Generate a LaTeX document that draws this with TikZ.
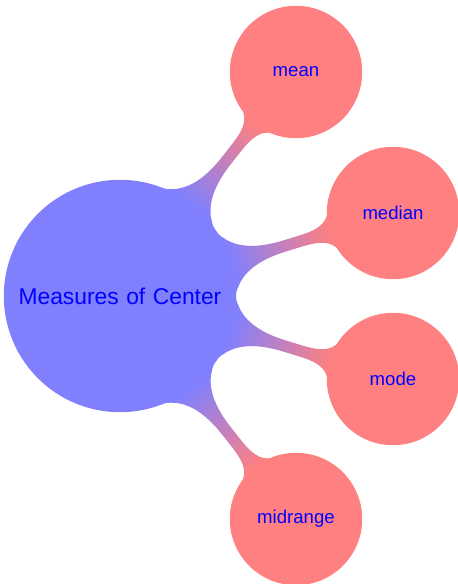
\documentclass[tikz,border=0pt]{standalone}
\usepackage{fontspec}
\setmainfont{Liberation Sans}
\usetikzlibrary{mindmap}
\colorlet{rootcol}{blue!50}
\colorlet{leafcol}{red!50}
\begin{document}
\begin{tikzpicture}[x=0.5pt,y=-0.5pt,mindmap,
  rootconcept/.style={concept,concept color=rootcol,minimum size=115pt,
    text width=108pt,font=\fontsize{11.4}{13}\selectfont,text=blue},
  leafconcept/.style={concept,concept color=leafcol,minimum size=65pt,
    text width=58pt,font=\fontsize{9.3}{11}\selectfont,text=blue},
  link/.style={circle connection bar switch color=from (rootcol) to (leafcol)}]
\useasboundingbox (0,0) rectangle (457,584);
% central topic and its four branches
\node[rootconcept] (root) at (120,296) {Measures of Center};
\node[leafconcept] (mean) at (296,72) {mean};
\node[leafconcept] (median) at (393,213) {median};
\node[leafconcept] (mode) at (393,379) {mode};
\node[leafconcept] (midrange) at (296,519) {midrange};
% shaded bars from the centre to each branch
\path (root) to[link] (mean);
\path (root) to[link] (median);
\path (root) to[link] (mode);
\path (root) to[link] (midrange);
\end{tikzpicture}
\end{document}
